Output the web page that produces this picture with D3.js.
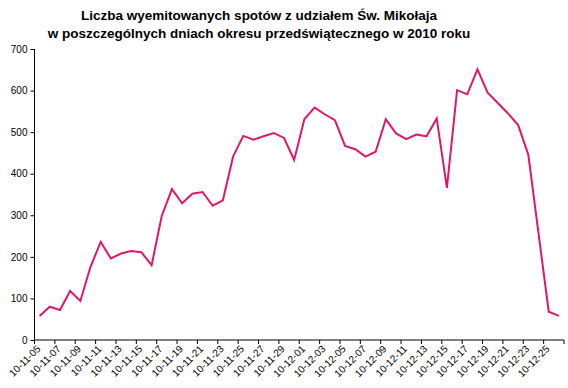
<!DOCTYPE html>
<html><head><meta charset="utf-8">
<script src="https://cdn.jsdelivr.net/npm/d3@7"></script>
<style>body{margin:0;background:#fff;} text{font-family:"Liberation Sans",Arial,sans-serif;}</style>
</head><body><svg id="c" width="568" height="388"></svg>
<script>
const titleLines = ["Liczba wyemitowanych spotów z udziałem Św. Mikołaja", "w poszczególnych dniach okresu przedświątecznego w 2010 roku"];
const dates = [];
for (let d = 5; d <= 30; d++) dates.push("10-11-" + String(d).padStart(2, "0"));
for (let d = 1; d <= 26; d++) dates.push("10-12-" + String(d).padStart(2, "0"));
const values = [58,80,72,118,94,176,236,196,208,214,211,180,299,363,329,352,356,323,336,441,491,482,490,498,486,433,531,559,543,529,467,459,441,453,531,497,483,494,490,533,366,601,591,651,595,570,545,517,445,256,68,58];
const yTicks = [0,100,200,300,400,500,600,700];

const svg = d3.select("#c");
const m = {l:34.5};
const x = d3.scaleBand().domain(dates).range([m.l, 564]).padding(0);
const y = d3.scaleLinear().domain([0,700]).range([340, 49]);

svg.append("g").selectAll("text").data(titleLines).join("text")
  .attr("x", 259).attr("y", (d,i)=>20 + i*18).attr("text-anchor","middle")
  .style("font-weight","bold").style("font-size","13.5px").text(d=>d);

// y axis
const ya = svg.append("g").attr("transform",`translate(${m.l},0)`)
  .call(d3.axisLeft(y).tickValues(yTicks).tickSize(4).tickPadding(3).tickFormat(d3.format("d")));
ya.select(".domain").attr("stroke","#000").attr("d", `M-0,${y(700)}V${y(0)}`);
ya.selectAll("text").style("font-size","10px").style("font-family","Liberation Sans, Arial, sans-serif");

// x axis
const tickPos = d3.range(0, dates.length+1, 2).map(i => m.l + i * x.bandwidth());
const xg = svg.append("g");
xg.append("line").attr("x1", m.l).attr("x2", 564).attr("y1", 340).attr("y2", 340).attr("stroke","#000");
xg.selectAll("line.t").data(tickPos).join("line").attr("class","t")
  .attr("x1", d=>d).attr("x2", d=>d).attr("y1", 340).attr("y2", 344).attr("stroke","#000");
const labelDates = dates.filter((d,i)=>i%2===0);
xg.selectAll("text").data(labelDates).join("text")
  .attr("transform", d=>`translate(${x(d)+x.bandwidth()/2-1},${347}) rotate(-45)`)
  .attr("text-anchor","end").attr("dy","0.35em")
  .style("font-size","10px").text(d=>d);

// line
const line = d3.line().x((d,i)=>x(dates[i]) + x.bandwidth()/2).y(d=>y(d));
svg.append("path").datum(values).attr("d", line).attr("fill","none")
  .attr("stroke","#E0186C").attr("stroke-width",2).attr("stroke-linejoin","miter");
</script></body></html>
